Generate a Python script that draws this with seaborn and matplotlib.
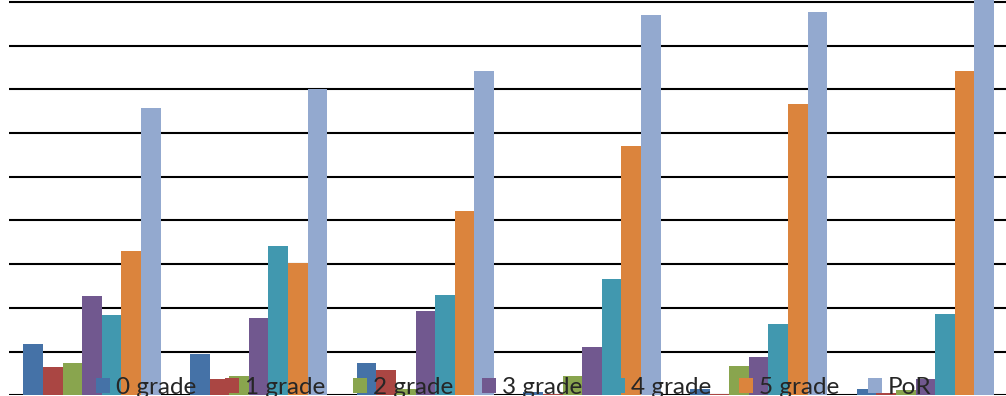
import matplotlib
matplotlib.use("Agg")
import matplotlib.pyplot as plt
import seaborn as sns
import pandas as pd

groups = ["1", "2", "3", "4", "5", "6"]
series = ["0 grade", "1 grade", "2 grade", "3 grade", "4 grade", "5 grade", "PoR"]
grade0 = [11.8, 9.5, 7.4, 0.8, 1.4, 1.4]
grade1 = [6.5, 3.7, 5.8, 0.4, 0.3, 0.5]
grade2 = [7.3, 4.4, 1.5, 4.5, 6.6, 1.2]
grade3 = [22.8, 17.7, 19.2, 11.0, 8.8, 3.7]
grade4 = [18.4, 34.2, 23.0, 26.7, 16.3, 18.5]
grade5 = [33.1, 30.3, 42.2, 57.1, 66.7, 74.2]
por = [65.8, 70.1, 74.3, 87.0, 87.8, 98.0]
colors = ["#4572A7", "#AA4643", "#89A54E", "#71588F", "#4198AF", "#DB843D", "#93A9CF"]

values = [grade0, grade1, grade2, grade3, grade4, grade5, por]
rows = []
for s, vals in zip(series, values):
    for g, v in zip(groups, vals):
        rows.append({"group": g, "series": s, "value": v})
df = pd.DataFrame(rows)

sns.set_theme(style="white")
plt.rcParams["font.family"] = ["Lato", "DejaVu Sans"]

W, H = 1006, 396
fig = plt.figure(figsize=(W / 100, H / 100), dpi=100)
ax = fig.add_axes([8.65 / W, 0.7 / H, 1000 / W, 437 / H])

sns.barplot(data=df, x="group", y="value", hue="series", order=groups,
            hue_order=series, palette=colors, saturation=1, width=0.824,
            errorbar=None, linewidth=0, ax=ax, zorder=3)

ax.set_xlim(-0.5, 5.5)
ax.set_ylim(0, 100)
ax.set_yticks(range(0, 101, 10))
ax.yaxis.grid(True, color="black", linewidth=1.5, zorder=0)
ax.set_axisbelow(True)
for sp in ax.spines.values():
    sp.set_visible(False)
ax.set_xticks([])
ax.set_yticklabels([])
ax.tick_params(left=False, bottom=False)
ax.set_xlabel("")
ax.set_ylabel("")

handles, labels = ax.get_legend_handles_labels()
if ax.legend_:
    ax.legend_.remove()
fig.legend(handles, labels, loc="lower left", bbox_to_anchor=(96 / W, -2 / H),
           ncol=7, frameon=False, fontsize=17.5, borderpad=0, borderaxespad=0,
           handlelength=0.58, handleheight=0.58, handletextpad=0.25,
           columnspacing=1.16)

fig.savefig("out.png", dpi=100)
